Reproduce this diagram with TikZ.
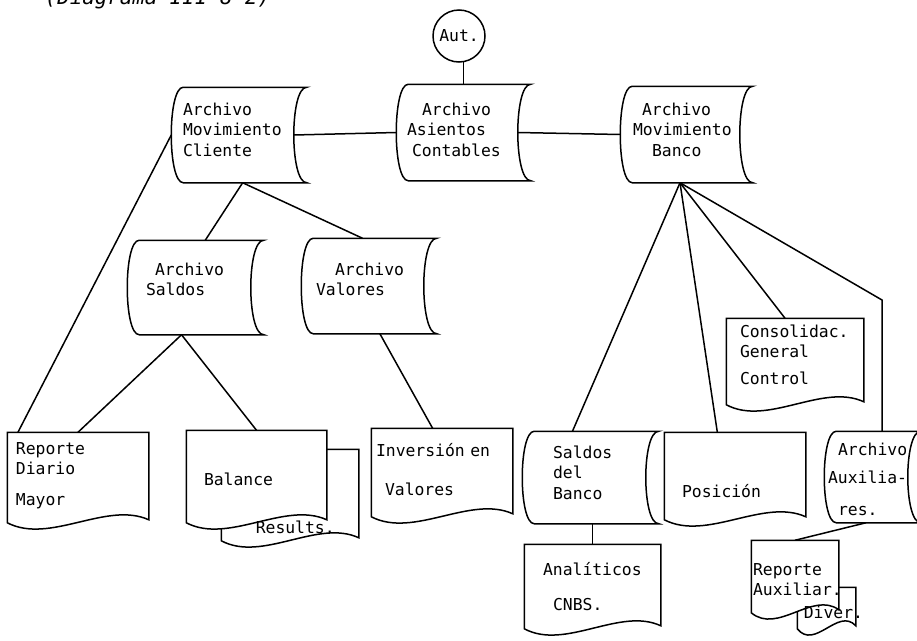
\documentclass[tikz,border=0pt]{standalone}
\usepackage{fontspec}
\setmainfont{DejaVu Sans Mono}
\usetikzlibrary{calc}
\tikzset{
  font=\fontsize{16.4}{20.5}\selectfont,
  x=1pt, y=-1pt,
  dims/.style 2 args={minimum width=#1, minimum height=#2},
  lift/.style={text height=0pt, text depth=#1},
  sink/.style={text depth=0pt, text height=#1},
  store/.style={inner sep=0pt, align=left,
    append after command={\pgfextra{
      \draw[fill=white] ($(\tikzlastnode.north west)+(12,0)$) -- ($(\tikzlastnode.north east)+(13,0)$)
        .. controls ($(\tikzlastnode.north east)+(-4.3,0)$) and ($(\tikzlastnode.south east)+(-4.3,0)$) .. ($(\tikzlastnode.south east)+(13,0)$)
        -- ($(\tikzlastnode.south west)+(12,0)$)
        .. controls ($(\tikzlastnode.south west)+(-4,0)$) and ($(\tikzlastnode.north west)+(-4,0)$) .. cycle;}}},
  doc/.style={inner sep=0pt, align=left,
    append after command={\pgfextra{
      \draw[fill=white] (\tikzlastnode.north west) -- (\tikzlastnode.north east) -- ($(\tikzlastnode.south east)+(0,-3)$)
        .. controls ($(\tikzlastnode.south east)!0.3!(\tikzlastnode.south west)+(0,-22)$) and ($(\tikzlastnode.south west)!0.3!(\tikzlastnode.south east)+(0,22)$) .. (\tikzlastnode.south west) -- cycle;}}},
  autom/.style={draw, circle, minimum size=52pt, inner sep=0pt},
  txt/.style={inner sep=0pt, anchor=base west},
  headline/.style={txt, font=\fontsize{20.8}{25}\selectfont\itshape}
}

\begin{document}
\begin{tikzpicture}[line width=1.5pt]
    \useasboundingbox (0,0) rectangle (917,640);
    \node[headline] (caption) at (44,4) {(Diagrama III-8-2)};

    \node[autom] (aut) at (459,36) {Aut.};
    \node[store, dims={121}{94}, lift=40pt, text width=99] (cliente) at (232.5,135) {Archivo\\Movimiento\\Cliente};
    \node[store, dims={120}{95}, lift=35pt, text width=100] (asientos) at (457,132.5) {\hspace*{15pt}Archivo\\Asientos\\\hspace*{5pt}Contables};
    \node[store, dims={118}{95}, lift=39pt, text width=94] (banco) at (680,134.5) {\hspace*{9pt}Archivo\\\mbox{Movimiento}\\\hspace*{19pt}Banco};
    \node[store, dims={122}{93}, lift=25pt, text width=86] (saldos) at (189,287.5) {\hspace*{9pt}Archivo\\Saldos};
    \node[store, dims={121}{94}, lift=22pt, text width=93] (valores) at (362.5,286) {\hspace*{19pt}Archivo\\Valores};

    \node[doc, dims={140}{89}, lift=47pt, text width=124] (repdiario) at (78,477.5) {Reporte\\Diario\\[10pt]Mayor};
    \node[doc, dims={136}{90}] (results) at (290,495) {};
    \node[doc, dims={139}{91}, sink=17pt, text width=105] (balance) at (256.5,476.5) {Balance};
    \node[txt] (resultstxt) at (255,533) {Results.};
    \node[doc, dims={140}{87}, lift=33pt, text width=132] (inversion) at (442,472.5) {Inversión en\\[18.5pt]\hspace*{9pt}Valores};

    \node[doc, dims={136}{85}, lift=49pt, text width=110] (consolidac) at (795,361.5) {Consolidac.\\General\\[6pt]Control};
    \node[store, dims={122}{91}, lift=39pt, text width=62] (saldosbanco) at (584,477.5) {Saldos\\del\\Banco};
    \node[doc, dims={140}{86}, sink=42pt, text width=106] (posicion) at (735,476) {Posición};
    \node[store, dims={82}{90}, lift=44pt, text width=76] (auxiliares) at (866,477) {\hspace*{10pt}\mbox{Archivo}\\[8pt]\mbox{Auxilia-}\\[11pt]\hspace*{10pt}res.};
    \node[doc, dims={135}{83}, lift=23pt, text width=99] (analiticos) at (592.5,586.5) {Analíticos\\[14.5pt]\hspace*{10pt}CNBS.};
    \node[doc, dims={57}{40}] (diver) at (826.5,608) {};
    \node[doc, dims={86}{71}, lift=3pt, text width=84] (repaux) at (795,576.5) {Reporte\\\mbox{Auxiliar.}};
    \node[txt] (divertxt) at (803,618) {Diver.};

    \coordinate (auxbend) at (882,300);

    \draw (aut.-80) -- (aut.-80 |- asientos.north);
    \draw (cliente.east) -- (asientos.west);
    \draw (asientos.east) -- (banco.west);
    \draw (cliente.-78) -- (saldos.71);
    \draw (cliente.-78) -- (valores.north);
    \draw (cliente.west) -- (repdiario.143);
    \draw (saldos.-99) -- (repdiario.north);
    \draw (saldos.-99) -- (balance.north);
    \draw (valores.-70) -- (inversion.102);
    \draw (banco.south) -- (saldosbanco.104);
    \draw (banco.south) -- (posicion.112);
    \draw (banco.south) -- (consolidac.103);
    \draw (banco.south) -- (auxbend) -- (auxbend |- auxiliares.north);
    \draw (analiticos.north |- saldosbanco.south) -- (analiticos.north);
    \draw (auxiliares.south) -- (repaux.north);
\end{tikzpicture}
\end{document}
